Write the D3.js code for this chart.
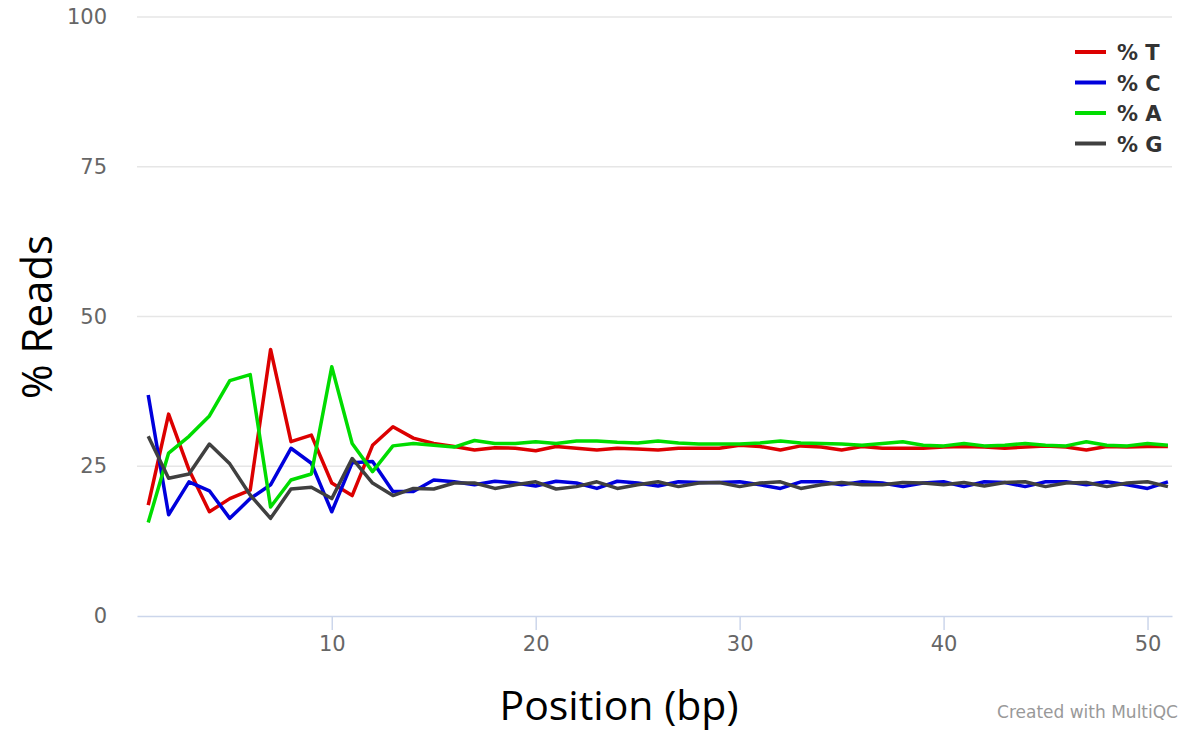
<!DOCTYPE html>
<html>
<head>
<meta charset="utf-8">
<script src="https://cdn.jsdelivr.net/npm/d3@7"></script>
<style>
  body { margin: 0; background: #fff; }
  svg { display: block; }
</style>
</head>
<body>
<svg></svg>
<script>
var positions = d3.range(1, 52);

var pctT = [18.5, 33.7, 24.4, 17.4, 19.6, 21.0, 44.5, 29.1, 30.2, 22.2,
            20.1, 28.5, 31.6, 29.7, 28.8, 28.3, 27.7, 28.1, 28.0, 27.6,
            28.3, 28.0, 27.7, 28.0, 27.9, 27.7, 28.0, 28.0, 28.0, 28.5,
            28.3, 27.7, 28.4, 28.2, 27.7, 28.3, 28.0, 28.0, 28.0, 28.2,
            28.3, 28.2, 28.0, 28.2, 28.4, 28.2, 27.7, 28.3, 28.2, 28.3, 28.3];
var pctC = [36.9, 16.9, 22.4, 20.9, 16.3, 19.6, 21.9, 28.0, 25.5, 17.4,
            25.6, 25.8, 20.8, 20.8, 22.7, 22.4, 21.9, 22.5, 22.2, 21.7,
            22.5, 22.2, 21.3, 22.5, 22.2, 21.7, 22.4, 22.3, 22.3, 22.4,
            21.9, 21.3, 22.4, 22.4, 21.9, 22.4, 22.2, 21.6, 22.2, 22.4,
            21.6, 22.4, 22.3, 21.6, 22.4, 22.4, 21.9, 22.4, 21.9, 21.3, 22.4];
var pctA = [15.6, 27.2, 30.0, 33.4, 39.3, 40.3, 18.2, 22.7, 23.7, 41.6,
            28.8, 24.1, 28.4, 28.8, 28.5, 28.2, 29.3, 28.8, 28.8, 29.1,
            28.8, 29.2, 29.2, 29.0, 28.9, 29.2, 28.9, 28.7, 28.7, 28.7,
            28.9, 29.2, 28.9, 28.8, 28.7, 28.5, 28.8, 29.1, 28.5, 28.4,
            28.8, 28.4, 28.5, 28.8, 28.5, 28.4, 29.1, 28.5, 28.4, 28.8, 28.5];
var pctG = [30.0, 23.0, 23.7, 28.7, 25.4, 20.2, 16.3, 21.2, 21.5, 19.6,
            26.3, 22.2, 20.1, 21.3, 21.2, 22.2, 22.2, 21.3, 21.9, 22.4,
            21.2, 21.6, 22.4, 21.3, 21.9, 22.4, 21.6, 22.2, 22.3, 21.6,
            22.2, 22.4, 21.3, 21.9, 22.3, 21.9, 21.9, 22.3, 22.2, 21.9,
            22.3, 21.7, 22.3, 22.4, 21.6, 22.2, 22.3, 21.6, 22.2, 22.4, 21.6];

var seriesNames = ["% T", "% C", "% A", "% G"];
var seriesColors = ["#dc0000", "#0000dc", "#00dc00", "#404040"];
var seriesValues = [pctT, pctC, pctA, pctG];

var yTicks = [0, 25, 50, 75, 100];
var xTicks = [10, 20, 30, 40, 50];

var svgWidth = 1181, svgHeight = 734;

var svg = d3.select("svg")
    .attr("width", svgWidth)
    .attr("height", svgHeight);

var xScale = d3.scaleLinear()
    .domain([0.45, 51.2])
    .range([137, 1172]);

var yScale = d3.scaleLinear()
    .domain([0, 100])
    .range([616, 17]);

// grid lines
svg.append("g")
    .selectAll("line")
    .data(yTicks.filter(function (d) { return d > 0; }))
    .enter().append("line")
    .attr("x1", xScale.range()[0])
    .attr("x2", xScale.range()[1])
    .attr("y1", function (d) { return yScale(d); })
    .attr("y2", function (d) { return yScale(d); })
    .style("stroke", "#e6e6e6")
    .style("stroke-width", 1.5);

// y axis labels
var y_axis = d3.axisLeft(yScale)
    .tickValues(yTicks)
    .tickSize(0)
    .tickPadding(30);

var yg = svg.append("g")
    .attr("transform", "translate(137, 0)")
    .call(y_axis);
yg.select(".domain").remove();
yg.selectAll("text")
    .style("font-family", "'DejaVu Sans', sans-serif")
    .style("font-size", "21px")
    .style("fill", "#666");

// x axis
var x_axis = d3.axisBottom(xScale)
    .tickValues(xTicks)
    .tickSize(14)
    .tickSizeOuter(0)
    .tickPadding(6);

var xg = svg.append("g")
    .attr("transform", "translate(0, 616)")
    .call(x_axis);
xg.select(".domain").style("stroke", "#ccd6eb").style("stroke-width", 1.5);
xg.selectAll(".tick line").style("stroke", "#ccd6eb").style("stroke-width", 1.5);
xg.selectAll("text")
    .style("font-family", "'DejaVu Sans', sans-serif")
    .style("font-size", "21px")
    .style("fill", "#666");

// lines
var line = d3.line()
    .x(function (d, i) { return xScale(positions[i]); })
    .y(function (d) { return yScale(d); });

svg.append("g")
    .selectAll("path")
    .data(seriesValues)
    .enter().append("path")
    .attr("d", line)
    .style("fill", "none")
    .style("stroke", function (d, i) { return seriesColors[i]; })
    .style("stroke-width", 3.5)
    .style("stroke-linejoin", "round");

// axis titles
svg.append("text")
    .attr("transform", "translate(52, 317) rotate(-90)")
    .attr("text-anchor", "middle")
    .style("font-family", "'Open Sans', sans-serif")
    .style("font-size", "42px")
    .style("fill", "#000")
    .text("% Reads");

svg.append("text")
    .attr("x", 619)
    .attr("y", 720)
    .attr("text-anchor", "middle")
    .style("font-family", "'Open Sans', sans-serif")
    .style("font-size", "41px")
    .style("fill", "#000")
    .text("Position (bp)");

// legend
var legend = svg.append("g")
    .selectAll("g")
    .data(seriesNames)
    .enter().append("g")
    .attr("transform", function (d, i) { return "translate(1075," + (52 + i * 30.5) + ")"; });

legend.append("line")
    .attr("x1", 0).attr("x2", 31)
    .style("stroke", function (d, i) { return seriesColors[i]; })
    .style("stroke-width", 4);

legend.append("text")
    .attr("x", 42)
    .attr("y", 8)
    .style("font-family", "'DejaVu Sans', sans-serif")
    .style("font-weight", "bold")
    .style("font-size", "21px")
    .style("fill", "#333")
    .text(function (d) { return d; });

// credits
svg.append("text")
    .attr("x", 1178)
    .attr("y", 718)
    .attr("text-anchor", "end")
    .style("font-family", "'DejaVu Sans', sans-serif")
    .style("font-size", "17px")
    .style("fill", "#999")
    .text("Created with MultiQC");
</script>
</body>
</html>
